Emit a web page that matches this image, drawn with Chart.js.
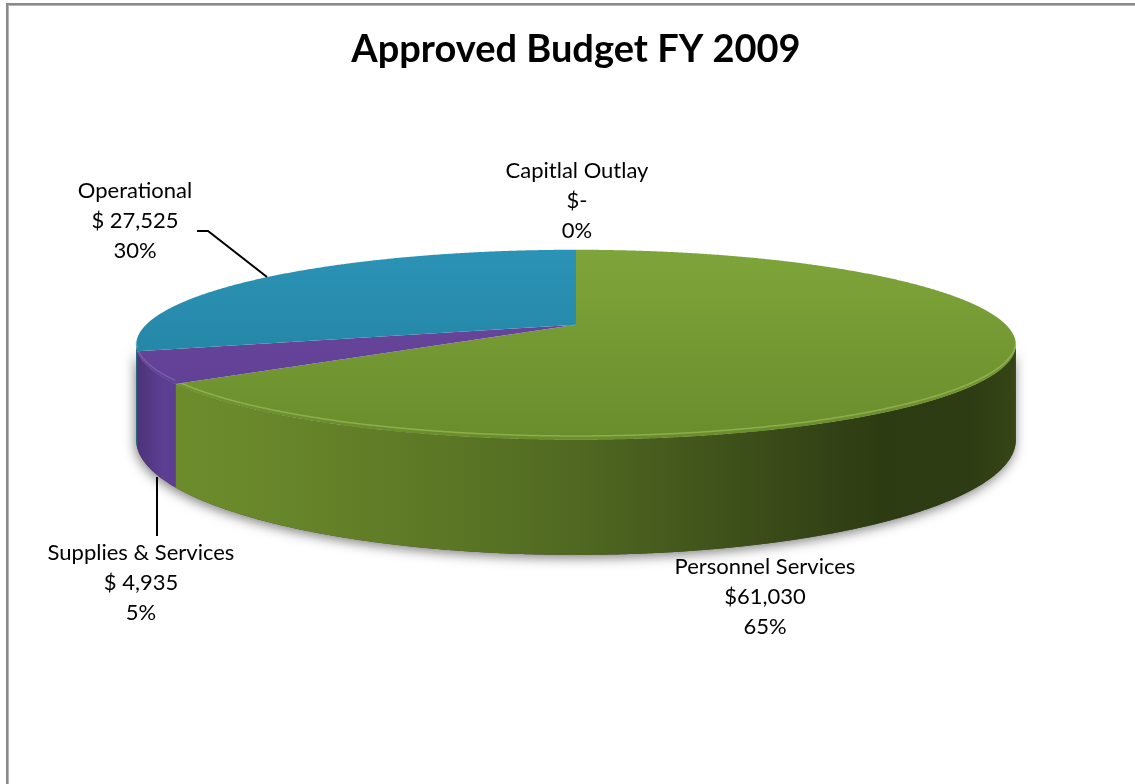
<!DOCTYPE html>
<html>
<head>
<meta charset="utf-8">
<title>Approved Budget FY 2009</title>
<script src="https://cdn.jsdelivr.net/npm/chart.js@4.4.1/dist/chart.umd.min.js"></script>
<style>
  html, body { margin: 0; padding: 0; background: #ffffff; overflow: hidden; width: 1135px; height: 784px; }
  #wrap { position: relative; width: 1135px; height: 784px; }
  canvas { display: block; }
</style>
</head>
<body>
<div id="wrap"><canvas id="budget" width="1135" height="784"></canvas></div>
<script>
// ---- data ----
const categories = ['Personnel Services', 'Supplies & Services', 'Operational', 'Capitlal Outlay'];
const amounts = [61030, 4935, 27525, 0];
const amountPrefixes = ['$', '$ ', '$ ', '$'];
const percentLabels = ['65%', '5%', '30%', '0%'];

// ---- styling ----
const topColors = [
  ['#7ea53a', '#6a8d2c'],   // green
  ['#6b49a0', '#5d3d92'],   // purple
  ['#2b93b6', '#1f7d9c'],   // blue
  ['#b0b0b0', '#a0a0a0']
];
const sideColors = [[108, 140, 44], [92, 62, 146], [34, 128, 158], [150, 150, 150]];
const rimColors = ['rgba(175,205,105,0.5)', 'rgba(150,120,200,0.45)', 'rgba(110,185,215,0.45)', 'rgba(255,255,255,0)'];

const look3d = { rx: 430, ry: 90.8, persp: 0.21, depth: 91 };

// label placement: centre x, first line y
const labelPlacement = [
  { x: 765, y: 567 },
  { x: 141, y: 553 },
  { x: 135, y: 191 },
  { x: 577, y: 171 }
];
const leaderLines = [
  null,
  [[157, 477], [157, 536]],
  [[197, 231], [208, 231], [267, 277]],
  null
];

function amountText(i) {
  const v = amounts[i];
  return v === 0 ? amountPrefixes[i] + '-' : amountPrefixes[i] + v.toLocaleString('en-US');
}

const pie3d = {
  id: 'pie3d',
  beforeDraw(chart) {
    const ctx = chart.ctx;
    ctx.save();
    ctx.fillStyle = '#8a8a8a';
    ctx.fillRect(6, 3, 1129, 2);
    ctx.fillRect(6, 3, 2, 781);
    ctx.fillStyle = '#b4b4b4';
    ctx.fillRect(8, 5, 1127, 1);
    ctx.fillRect(8, 5, 1, 779);
    ctx.restore();
  },
  beforeDatasetsDraw(chart) {
    const ctx = chart.ctx;
    const arcs = chart.getDatasetMeta(0).data;
    const cx = arcs[0].x, cy = arcs[0].y;
    const { rx, ry, persp, depth } = look3d;
    const proj = (a, drop) => {
      const X = Math.cos(a), Z = Math.sin(a), w = 1 - persp * Z;
      return [cx + rx * X / w, cy + (ry * Z + drop) / w];
    };
    const step = Math.PI / 720;
    const edge = Math.asin(persp);
    const frontLo = edge, frontHi = Math.PI - edge;
    const leftX = proj(Math.PI - edge, 0)[0];
    const rightX = proj(edge, 0)[0];

    // soft shadow under the disc
    ctx.save();
    ctx.beginPath();
    for (let a = frontLo; a <= frontHi + 1e-9; a += step) {
      const [x, y] = proj(a, depth);
      a === frontLo ? ctx.moveTo(x, y) : ctx.lineTo(x, y);
    }
    for (let a = frontHi; a >= frontLo - 1e-9; a -= step) {
      const [x, y] = proj(a, 0);
      ctx.lineTo(x, y);
    }
    ctx.closePath();
    ctx.shadowColor = 'rgba(0,0,0,0.5)';
    ctx.shadowBlur = 12;
    ctx.shadowOffsetX = -1;
    ctx.shadowOffsetY = 3;
    ctx.fillStyle = '#444';
    ctx.fill();
    ctx.restore();

    // outer walls, front half only
    arcs.forEach((arc, i) => {
      const { startAngle, endAngle } = arc.getProps(['startAngle', 'endAngle'], true);
      if (endAngle - startAngle <= 0) return;
      for (const off of [0, 2 * Math.PI, -2 * Math.PI]) {
        const a1 = Math.max(startAngle + off, frontLo);
        const a2 = Math.min(endAngle + off, frontHi);
        if (a2 <= a1) continue;
        ctx.save();
        ctx.beginPath();
        let first = true;
        for (let a = a1; a < a2; a += step) {
          const [x, y] = proj(a, 0);
          first ? ctx.moveTo(x, y) : ctx.lineTo(x, y);
          first = false;
        }
        let p = proj(a2, 0); ctx.lineTo(p[0], p[1]);
        for (let a = a2; a > a1; a -= step) {
          const [x, y] = proj(a, depth);
          ctx.lineTo(x, y);
        }
        p = proj(a1, depth); ctx.lineTo(p[0], p[1]);
        ctx.closePath();
        const [r, g, b] = sideColors[i];
        const grad = ctx.createLinearGradient(leftX, 0, rightX, 0);
        const shade = [[0, 0.82], [0.03, 1.0], [0.12, 0.98], [0.35, 0.85], [0.5, 0.74], [0.7, 0.56], [0.85, 0.42], [0.95, 0.43], [1, 0.5]];
        shade.forEach(([t, f]) => grad.addColorStop(t, `rgb(${Math.round(r * f)},${Math.round(g * f)},${Math.round(b * f)})`));
        ctx.fillStyle = grad;
        ctx.fill();
        ctx.restore();
      }
    });

    // top faces
    const topY = cy - ry / (1 + persp);
    const frontY = cy + ry / (1 - persp);
    arcs.forEach((arc, i) => {
      const { startAngle, endAngle } = arc.getProps(['startAngle', 'endAngle'], true);
      if (endAngle - startAngle <= 0) return;
      ctx.save();
      ctx.beginPath();
      ctx.moveTo(cx, cy);
      for (let a = startAngle; a < endAngle; a += step) {
        const [x, y] = proj(a, 0);
        ctx.lineTo(x, y);
      }
      const p = proj(endAngle, 0); ctx.lineTo(p[0], p[1]);
      ctx.closePath();
      const grad = ctx.createLinearGradient(0, topY, 0, frontY);
      grad.addColorStop(0, topColors[i][0]);
      grad.addColorStop(1, topColors[i][1]);
      ctx.fillStyle = grad;
      ctx.fill();
      ctx.restore();

      // bevel highlight along the front rim
      for (const off of [0, 2 * Math.PI, -2 * Math.PI]) {
        const a1 = Math.max(startAngle + off, frontLo + 0.02);
        const a2 = Math.min(endAngle + off, frontHi);
        if (a2 <= a1) continue;
        ctx.save();
        ctx.beginPath();
        let first = true;
        for (let a = a1; a <= a2; a += step) {
          const [x, y] = proj(a, -3);
          first ? ctx.moveTo(x, y) : ctx.lineTo(x, y);
          first = false;
        }
        ctx.strokeStyle = rimColors[i];
        ctx.lineWidth = 1.5;
        ctx.stroke();
        ctx.restore();
      }
    });
    return false;
  },
  afterDraw(chart) {
    const ctx = chart.ctx;
    ctx.save();
    ctx.strokeStyle = '#000';
    ctx.lineWidth = 2;
    leaderLines.forEach(pts => {
      if (!pts) return;
      ctx.beginPath();
      pts.forEach(([x, y], k) => k ? ctx.lineTo(x, y) : ctx.moveTo(x, y));
      ctx.stroke();
    });
    ctx.fillStyle = '#000';
    ctx.font = '22px Lato, "Open Sans", sans-serif';
    ctx.textAlign = 'center';
    ctx.textBaseline = 'middle';
    categories.forEach((name, i) => {
      const { x, y } = labelPlacement[i];
      [name, amountText(i), percentLabels[i]].forEach((line, k) => ctx.fillText(line, x, y + k * 30));
    });
    ctx.restore();
  }
};

new Chart(document.getElementById('budget'), {
  type: 'pie',
  data: {
    labels: categories,
    datasets: [{
      data: amounts,
      backgroundColor: topColors.map(c => c[0]),
      borderWidth: 0
    }]
  },
  options: {
    responsive: false,
    animation: false,
    events: [],
    layout: { padding: { left: 17, right: 0, top: 0, bottom: 217 } },
    plugins: {
      legend: { display: false },
      tooltip: { enabled: false },
      title: {
        display: true,
        text: 'Approved Budget FY 2009',
        color: '#000',
        font: { family: 'Lato', size: 38, weight: 'bold', lineHeight: 1.2 },
        padding: { top: 27, bottom: 10 }
      }
    }
  },
  plugins: [pie3d]
});
</script>
</body>
</html>
